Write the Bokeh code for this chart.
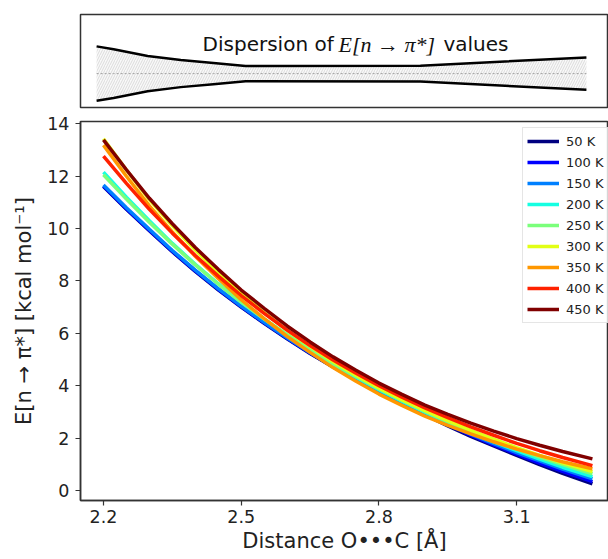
from bokeh.plotting import figure
from bokeh.layouts import column
from bokeh.models import Range1d, Legend, LegendItem, Label, FixedTicker
from bokeh.embed import file_html
from bokeh.resources import INLINE

# ---- data ----
distance = [2.20, 2.25, 2.30, 2.35, 2.40, 2.45, 2.50, 2.55, 2.60, 2.65, 2.70,
            2.75, 2.80, 2.85, 2.90, 2.95, 3.00, 3.05, 3.10, 3.15, 3.20, 3.265]

e_50K  = [11.60, 10.73, 9.91, 9.11, 8.36, 7.66, 7.00, 6.38, 5.79, 5.23, 4.71,
          4.22, 3.76, 3.31, 2.89, 2.47, 2.07, 1.70, 1.34, 0.99, 0.66, 0.26]
e_100K = [11.62, 10.75, 9.93, 9.13, 8.38, 7.68, 7.02, 6.40, 5.81, 5.25, 4.72,
          4.24, 3.78, 3.33, 2.91, 2.50, 2.11, 1.74, 1.39, 1.05, 0.73, 0.34]
e_150K = [11.66, 10.79, 9.97, 9.16, 8.41, 7.70, 7.04, 6.42, 5.83, 5.27, 4.75,
          4.26, 3.80, 3.36, 2.94, 2.54, 2.15, 1.79, 1.45, 1.13, 0.82, 0.45]
e_200K = [12.15, 11.19, 10.29, 9.43, 8.63, 7.89, 7.19, 6.54, 5.93, 5.35, 4.81,
          4.32, 3.85, 3.41, 2.99, 2.59, 2.21, 1.86, 1.52, 1.20, 0.89, 0.53]
e_250K = [12.05, 11.12, 10.24, 9.40, 8.61, 7.88, 7.19, 6.55, 5.95, 5.38, 4.84,
          4.35, 3.88, 3.44, 3.02, 2.63, 2.26, 1.92, 1.59, 1.28, 0.99, 0.64]
e_300K = [13.42, 12.23, 11.10, 10.11, 9.18, 8.32, 7.51, 6.79, 6.11, 5.50, 4.92,
          4.40, 3.91, 3.47, 3.06, 2.67, 2.30, 1.96, 1.64, 1.34, 1.06, 0.72]
e_350K = [13.18, 11.99, 10.86, 9.87, 8.94, 8.09, 7.28, 6.56, 5.88, 5.27, 4.69,
          4.17, 3.68, 3.25, 2.84, 2.49, 2.16, 1.86, 1.58, 1.33, 1.10, 0.83]
e_400K = [12.76, 11.72, 10.73, 9.82, 8.97, 8.18, 7.44, 6.76, 6.12, 5.53, 4.98,
          4.48, 4.00, 3.56, 3.15, 2.78, 2.43, 2.11, 1.80, 1.52, 1.26, 0.95]
e_450K = [13.38, 12.24, 11.15, 10.18, 9.27, 8.44, 7.65, 6.95, 6.28, 5.67, 5.10,
          4.59, 4.10, 3.67, 3.26, 2.91, 2.57, 2.27, 1.98, 1.73, 1.49, 1.21]

temperatures = ["50 K", "100 K", "150 K", "200 K", "250 K", "300 K", "350 K", "400 K", "450 K"]
series = [e_50K, e_100K, e_150K, e_200K, e_250K, e_300K, e_350K, e_400K, e_450K]
colors = ["#000080", "#0000ff", "#0080ff", "#15ffe2", "#7bff7b",
          "#e2ff15", "#ff9700", "#ff2100", "#800000"]

x_ticks = [2.2, 2.5, 2.8, 3.1]
y_ticks = [0, 2, 4, 6, 8, 10, 12, 14]

# dispersion band (top panel)
disp_x = [2.200, 2.237, 2.311, 2.383, 2.454, 2.524, 2.904, 3.265]
disp_spread = [1.75, 1.57, 1.13, 0.87, 0.68, 0.49, 0.51, 1.04]

FRAME = "#333333"

# ---- top panel ----
top = figure(width=608, height=112, x_range=Range1d(2.165, 3.313), y_range=Range1d(-1.09, 1.90),
             output_backend="svg", toolbar_location=None,
             min_border_left=80, min_border_right=0, min_border_top=14, min_border_bottom=5)
top.xaxis.visible = False
top.yaxis.visible = False
top.grid.visible = False
top.outline_line_color = FRAME
top.outline_line_width = 1.5

upper = [s / 2 for s in disp_spread]
lower = [-s / 2 for s in disp_spread]
top.varea(x=disp_x, y1=lower, y2=upper, fill_color="#f9f9f9",
          hatch_pattern="/", hatch_color="#c6c6c6", hatch_scale=5, hatch_weight=0.6)
top.line(disp_x, [0] * len(disp_x), color="#a0a0a0", line_width=1, line_dash="2 2")
top.line(disp_x, upper, color="black", line_width=2.5)
top.line(disp_x, lower, color="black", line_width=2.5)

top.add_layout(Label(x=2.4304, y=0.946, text="Dispersion of", text_font="DejaVu Sans",
                     text_font_size="20px", text_baseline="alphabetic", text_color="#111111"))
top.add_layout(Label(x=2.726, y=0.946, text="E[n \u2192 \u03c0*]", text_font="Liberation Serif",
                     text_font_style="italic", text_font_size="22px", text_baseline="alphabetic",
                     text_color="#111111"))
top.add_layout(Label(x=2.954, y=0.946, text="values", text_font="DejaVu Sans",
                     text_font_size="20px", text_baseline="alphabetic", text_color="#111111"))

# ---- main panel ----
p = figure(width=608, height=447, x_range=Range1d(2.15, 3.30), y_range=Range1d(-0.38, 14.08),
           output_backend="svg", toolbar_location=None,
           min_border_left=79, min_border_right=0, min_border_top=9, min_border_bottom=59)
p.grid.visible = False
p.outline_line_color = FRAME
p.outline_line_width = 1.5

renderers = []
for vals, c in zip(series, colors):
    r = p.line(distance, vals, color=c, line_width=3.5)
    renderers.append(r)

legend = Legend(items=[LegendItem(label=t, renderers=[r]) for t, r in zip(temperatures, renderers)],
                location=(442, 177))
legend.label_text_font = "DejaVu Sans"
legend.label_text_font_size = "13px"
legend.label_text_color = "#222222"
legend.glyph_width = 32
legend.glyph_height = 18
legend.label_height = 18
legend.spacing = 3
legend.padding = 4
legend.margin = 0
legend.label_standoff = 7
legend.border_line_color = "#cccccc"
legend.border_line_width = 1
legend.background_fill_alpha = 0.85
p.add_layout(legend)

for ax in (p.xaxis[0], p.yaxis[0]):
    ax.axis_line_color = FRAME
    ax.axis_line_width = 1.5
    ax.major_tick_line_color = FRAME
    ax.major_tick_line_width = 1.2
    ax.major_tick_out = 5
    ax.major_tick_in = 0
    ax.minor_tick_out = 0
    ax.minor_tick_in = 0
    ax.major_label_text_font = "DejaVu Sans"
    ax.major_label_text_font_size = "17.5px"
    ax.major_label_text_color = "#222222"
    ax.axis_label_text_font = "DejaVu Sans"
    ax.axis_label_text_font_size = "21px"
    ax.axis_label_text_font_style = "normal"
    ax.axis_label_text_color = "#222222"

p.xaxis.ticker = FixedTicker(ticks=x_ticks)
p.yaxis.ticker = FixedTicker(ticks=y_ticks)
p.xaxis.major_label_standoff = 4
p.yaxis.major_label_standoff = 6
p.xaxis.axis_label = "Distance O\u2022\u2022\u2022C [\u00c5]"
p.yaxis.axis_label = "E[n \u2192 \u03c0*] [kcal mol\u207b\u00b9]"
p.xaxis.axis_label_standoff = 3
p.yaxis.axis_label_standoff = 8

layout = column(top, p, spacing=0)
open("out.html", "w").write(file_html(layout, INLINE))
